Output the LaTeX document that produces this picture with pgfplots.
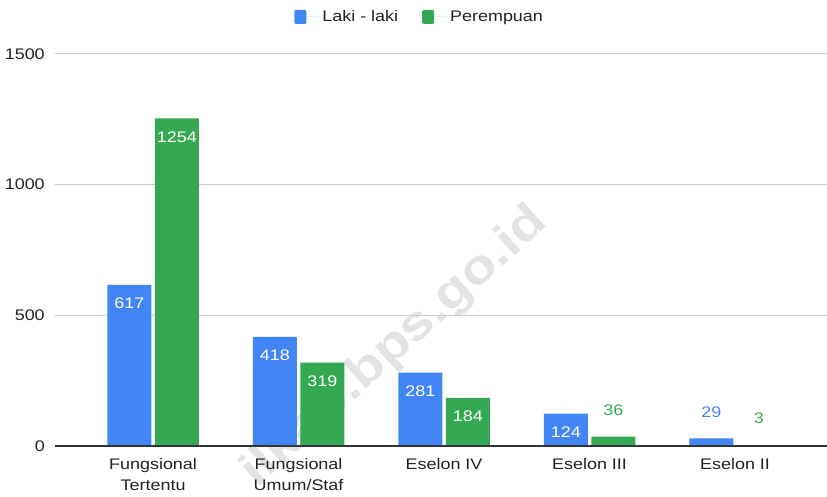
\documentclass[border=0pt]{standalone}
\usepackage{fontspec}
\setmainfont{Liberation Sans}[FakeStretch=1.17]
\usepackage{pgfplots}
\pgfplotsset{compat=1.18}
\definecolor{cblue}{HTML}{4285F4}
\definecolor{cgreen}{HTML}{34A853}
\definecolor{txt}{HTML}{222222}
\definecolor{gridc}{HTML}{CCCCCC}
\definecolor{zeroc}{HTML}{333333}
\newcommand{\lblfont}{\fontsize{11.5}{15.75}\selectfont}
\begin{document}
\begin{tikzpicture}
\useasboundingbox (-41.25pt,-37.5pt) rectangle (579pt,334.5pt);
\node[rotate=42, text=black!11, font=\bfseries\fontsize{36}{36}\selectfont] at (255pt,74pt) {ilkab.bps.go.id};
\begin{axis}[
  at={(0,0)}, anchor=south west,
  scale only axis, width=579pt, height=294pt,
  xmin=-0.674, xmax=4.632, ymin=0, ymax=1500,
  ybar, bar width=33pt,
  axis line style={draw=none},
  major tick length=0pt,
  ytick={0,500,1000,1500},
  ymajorgrids, grid style={gridc, line width=0.75pt},
  xtick={0,1,2,3,4},
  xticklabels={{Fungsional\\Tertentu},{Fungsional\\Umum/Staf},{Eselon IV},{Eselon III},{Eselon II}},
  xticklabel style={align=center, anchor=north, inner sep=0pt, yshift=-9pt, font=\lblfont, text=txt},
  yticklabel style={anchor=east, inner sep=0pt, xshift=-7.5pt, font=\lblfont, text=txt},
  /pgf/number format/assume math mode=true,
  /pgf/number format/1000 sep={},
  legend style={at={(0.4728,1.0944)}, anchor=center, draw=none, fill=none,
    legend columns=2, font=\lblfont, text=txt,
    /tikz/every even column/.append style={column sep=16pt}},
  nodes near coords style={font=\lblfont},
]
\addplot[fill=cblue, draw=none, bar shift=-17.8pt,
  legend image code/.code={\fill[cblue, rounded corners=1pt] (0pt,-5.25pt) rectangle (9pt,5.25pt); \path (0pt,0pt) -- (19pt,0pt);}]
  coordinates {(0,617) (1,418) (2,281) (3,124) (4,29)};
\addlegendentry{Laki - laki}
\addplot[fill=cgreen, draw=none, bar shift=17.8pt,
  legend image code/.code={\fill[cgreen, rounded corners=1pt] (0pt,-5.25pt) rectangle (9pt,5.25pt); \path (0pt,0pt) -- (19pt,0pt);}]
  coordinates {(0,1254) (1,319) (2,184) (3,36) (4,3)};
\addlegendentry{Perempuan}
% labels inside bars
\addplot[draw=none, fill=none, bar shift=-17.8pt, forget plot, nodes near coords,
  every node near coord/.append style={anchor=center, yshift=-14pt, text=white}]
  coordinates {(0,617) (1,418) (2,281) (3,124)};
\addplot[draw=none, fill=none, bar shift=17.8pt, forget plot, nodes near coords,
  every node near coord/.append style={anchor=center, yshift=-14pt, text=white}]
  coordinates {(0,1254) (1,319) (2,184)};
% labels above small bars
\addplot[draw=none, fill=none, bar shift=-17.8pt, forget plot, nodes near coords,
  every node near coord/.append style={anchor=center, yshift=20pt, text=cblue}]
  coordinates {(4,29)};
\addplot[draw=none, fill=none, bar shift=17.8pt, forget plot, nodes near coords,
  every node near coord/.append style={anchor=center, yshift=20pt, text=cgreen}]
  coordinates {(3,36) (4,3)};
\draw[zeroc, line width=1pt] (axis cs:-0.674,0) -- (axis cs:4.632,0);
\end{axis}
\end{tikzpicture}
\end{document}
